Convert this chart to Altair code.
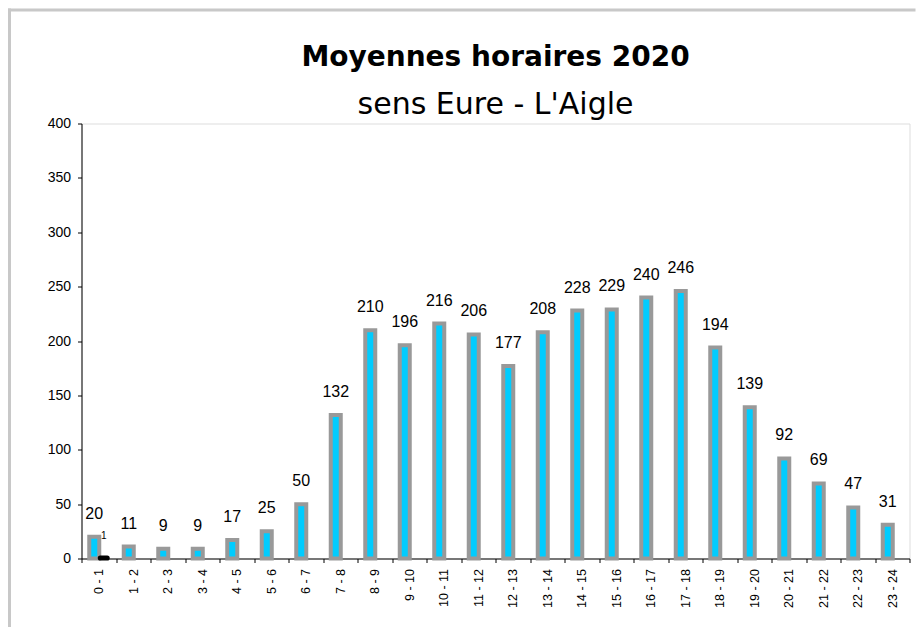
import altair as alt
import pandas as pd

# ---- data ----
hours = ["0 - 1", "1 - 2", "2 - 3", "3 - 4", "4 - 5", "5 - 6", "6 - 7", "7 - 8",
         "8 - 9", "9 - 10", "10 - 11", "11 - 12", "12 - 13", "13 - 14", "14 - 15",
         "15 - 16", "16 - 17", "17 - 18", "18 - 19", "19 - 20", "20 - 21",
         "21 - 22", "22 - 23", "23 - 24"]
vl_values = [20, 11, 9, 9, 17, 25, 50, 132, 210, 196, 216, 206, 177, 208, 228,
             229, 240, 246, 194, 139, 92, 69, 47, 31]
pl_values = [1] + [None] * 23
y_ticks = [0, 50, 100, 150, 200, 250, 300, 350, 400]
title_text = "Moyennes horaires 2020"
subtitle_text = "sens Eure - L'Aigle"

df = pd.DataFrame({"hour": hours, "value": vl_values, "pl": pl_values})
one = pd.DataFrame({"k": [0]})

W, H = 828, 435
LABEL_FONT = "Liberation Sans"
TITLE_FONT = "DejaVu Sans"

x_enc = alt.X("hour:N", sort=hours,
              scale=alt.Scale(paddingInner=0, paddingOuter=0),
              axis=alt.Axis(title=None, labelAngle=-90, labelFont=LABEL_FONT,
                            labelFontSize=12.5, labelColor="black",
                            domainColor="black", tickColor="black", tickSize=4,
                            tickBand="extent", labelPadding=6, grid=False))
y_scale = alt.Scale(domain=[0, 400], nice=False)
y_axis = alt.Axis(title=None, values=y_ticks, labelFont=LABEL_FONT,
                  labelFontSize=14, labelColor="black", domainColor="black",
                  tickColor="black", tickSize=4, labelPadding=7, grid=False)

base = alt.Chart(df)

bars = base.mark_bar(size=10, color="#00CCFF", stroke="#999999",
                     strokeWidth=4, xOffset=-4.5).encode(
    x=x_enc, y=alt.Y("value:Q", scale=y_scale, axis=y_axis))

labels = base.mark_text(font=LABEL_FONT, fontSize=16, color="black",
                        baseline="middle", dy=-23, xOffset=-4.5).encode(
    x=x_enc, y=alt.Y("value:Q", scale=y_scale, axis=y_axis),
    text=alt.Text("value:Q"))

pl_bars = base.transform_filter("isValid(datum.pl)").mark_bar(
    size=8, color="black", stroke="black", strokeWidth=4, xOffset=5,
    cornerRadius=2).encode(
    x=x_enc, y=alt.Y("pl:Q", scale=y_scale, axis=y_axis))

pl_labels = base.transform_filter("isValid(datum.pl)").mark_text(
    font=LABEL_FONT, fontSize=10, color="black", baseline="middle",
    dy=-21, xOffset=5).encode(
    x=x_enc, y=alt.Y("pl:Q", scale=y_scale, axis=y_axis),
    text=alt.Text("pl:Q"))

title = alt.Chart(one).mark_text(font=TITLE_FONT, fontSize=28,
                                 fontWeight="bold", color="black",
                                 align="center", baseline="alphabetic").encode(
    x=alt.value(W / 2), y=alt.value(-58), text=alt.value(title_text))

subtitle = alt.Chart(one).mark_text(font=TITLE_FONT, fontSize=30,
                                    color="black", align="center",
                                    baseline="alphabetic").encode(
    x=alt.value(W / 2), y=alt.value(-10), text=alt.value(subtitle_text))

frame_left = alt.Chart(one).mark_rule(color="#C8C8C8", strokeWidth=3).encode(
    x=alt.value(-72), y=alt.value(-115), y2=alt.value(520))
frame_top = alt.Chart(one).mark_rule(color="#C8C8C8", strokeWidth=3).encode(
    y=alt.value(-113.5), x=alt.value(-73.5), x2=alt.value(834))

chart = alt.layer(frame_left, frame_top, bars, labels, pl_bars, pl_labels,
                  title, subtitle).properties(
    width=W, height=H,
    autosize=alt.AutoSizeParams(type="none"),
    padding={"left": 73.5, "top": 115.5, "right": 6, "bottom": 68},
).configure_view(stroke=None).configure(background="white")

chart.save("out.html", embed_options={"renderer": "svg", "actions": False})
